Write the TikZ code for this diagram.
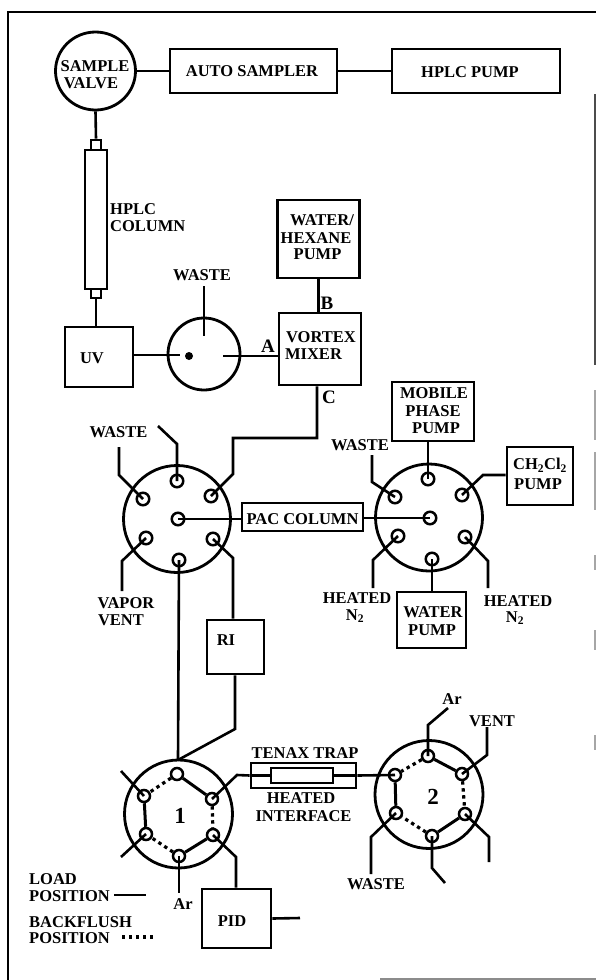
\documentclass[tikz,border=0pt]{standalone}
\usepackage{fontspec}
\usetikzlibrary{shapes.geometric}
\setmainfont{Liberation Serif}
\tikzset{
 x=1pt,y=-1pt,
 ln/.style={line width=2.6pt,line join=miter},
 thk/.style={line width=3pt},
 box/.style={line width=2.8pt},
 dot/.style={line width=3.2pt,dash pattern=on 3.4pt off 3.6pt},
 lab/.style={font=\bfseries\fontsize{16.5}{17}\selectfont,inner sep=0pt,anchor=center},
 labl/.style={lab,anchor=west},
 big/.style={font=\bfseries\fontsize{19}{19}\selectfont,inner sep=0pt},
 num/.style={font=\bfseries\fontsize{23}{23}\selectfont,inner sep=0pt},
 port/.style={circle,draw,line width=2.5pt,minimum size=12.5pt,inner sep=0pt},
 sport/.style={port,minimum size=12pt}
}
\begin{document}
\begin{tikzpicture}
\useasboundingbox (0,0) rectangle (596,980);
\fill[white] (0,0) rectangle (596,980);
% frame
\draw[line width=2.4pt] (596,12) -- (8,12) -- (8,980);
\draw[line width=1.4pt,black!45] (380,979) -- (596,979);
\draw[line width=1.5pt,black!70] (595,94) -- (595,365);
\draw[line width=1.5pt,black!35] (595,390) -- (595,440);
\draw[line width=1.5pt,black!35] (595,452) -- (595,510);
\draw[line width=1.5pt,black!35] (595,555) -- (595,570);
\draw[line width=1.5pt,black!35] (595,630) -- (595,650);
\draw[line width=1.5pt,black!35] (595,735) -- (595,750);
% top row
\node[draw,ellipse,box,minimum width=80pt,minimum height=78pt,inner sep=0pt] (sv) at (95.5,71) {};
\node[lab] at (95,66) {SAMPLE};
\node[lab] at (91,83) {VALVE};
\node[draw,rectangle,box,minimum width=167pt,minimum height=44pt] (as) at (253.5,71) {};
\node[lab] at (252,71) {AUTO SAMPLER};
\node[draw,rectangle,box,minimum width=168pt,minimum height=44pt] (hp) at (476,71) {};
\node[lab] at (470,72) {HPLC PUMP};
\draw[ln] (sv) -- (as);
\draw[ln] (as) -- (hp);
% hplc column
\node[draw,box,minimum width=22pt,minimum height=139pt] (col) at (96,219.5) {};
\node[draw,box,minimum width=10pt,minimum height=10pt] (fa) at (96,145) {};
\node[draw,box,minimum width=10pt,minimum height=9pt] (fb) at (96,293.5) {};
\node[labl] at (110,209) {HPLC};
\node[labl] at (110,226) {COLUMN};
\node[draw,box,minimum width=68pt,minimum height=60pt] (uv) at (99,357) {};
\node[lab] at (92,358) {UV};
\draw[ln] (sv.south) -- (fa.north);
\draw[ln] (fb.south) -- (uv.north -| fb.south);
% waste selector
\node[draw,circle,box,minimum size=72pt,inner sep=0pt] (wv) at (204,354) {};
\coordinate (wvs) at (204,336);
\coordinate (wvt) at (204,286);
\coordinate (wvl) at (180,355);
\coordinate (wvr) at (223,356);
\fill (189,356) circle (4);
\node[lab] at (202,275) {WASTE};
\draw[ln] (wvt) -- (wvs);
\draw[ln] (uv.east |- wvl) -- (wvl);
% vortex and water/hexane
\node[draw,box,minimum width=82pt,minimum height=72pt] (vm) at (320,349) {};
\node[lab] at (321,337) {VORTEX};
\node[lab] at (313.5,354) {MIXER};
\node[draw,box,minimum width=82pt,minimum height=78pt] (wh) at (318.5,239) {};
\node[lab] at (322,220) {WATER/};
\node[lab] at (316,238) {HEXANE};
\node[lab] at (317.5,254) {PUMP};
\node[big] at (268,346) {A};
\node[big] at (327,303) {B};
\node[big] at (329,397) {C};
\draw[ln] (wh.south) -- (vm.north -| wh.south);
\draw[ln] (wvr) -- (vm.west |- wvr);
% left 6-port valve
\node[draw,circle,box,minimum size=107pt,inner sep=0pt] (a) at (177,519) {};
\node[port] (at) at (177,481) {};
\node[port] (aur) at (211,496) {};
\node[port] (ac) at (178,519) {};
\node[port] (aul) at (143,499) {};
\node[port] (all) at (146,538) {};
\node[port] (alr) at (213,539) {};
\node[port] (ab) at (179,560) {};
\coordinate (p1) at (158,426);
\coordinate (p2) at (119,447);
\coordinate (p3) at (122,591);
\draw[ln] (vm.south -| 317,0) -- (317,438) -- (233,438) -- (233,474) -- (aur.center);
\draw[ln] (aul.center) -- (119,475) -- (p2);
\draw[ln] (at.center) -- (177,444) -- (p1);
\draw[ln] (all.center) -- (122,561) -- (p3);
\node[lab] at (118.5,432) {WASTE};
\node[lab] at (126,603) {VAPOR};
\node[lab] at (121,620) {VENT};
% PAC column
\node[draw,box,fill=white,minimum width=121pt,minimum height=28pt] (pac) at (302.5,517) {};
\node[lab] at (302.5,519) {PAC COLUMN};
\draw[ln] (ac.center) -- (pac.west |- ac.center);
% RI
\node[draw,box,minimum width=57pt,minimum height=54pt] (ri) at (235.5,647) {};
\node[lab] at (226,640) {RI};
\draw[ln] (alr.center) -- (233,558) -- (ri.north -| 233,0);
% right 6-port valve
\node[draw,circle,box,minimum size=107pt,inner sep=0pt] (b) at (429,517.5) {};
\node[port] (bt) at (428,479) {};
\node[port] (bur) at (462,495) {};
\node[port] (bc) at (430,518) {};
\node[port] (bul) at (395,497) {};
\node[port] (bll) at (398,536) {};
\node[port] (blr) at (465,537) {};
\node[port] (bb) at (432,559) {};
\draw[ln] (pac.east |- bc.center) -- (bc.center);
\node[draw,box,minimum width=82pt,minimum height=59pt] (mp) at (433,411.5) {};
\node[lab] at (434,393) {MOBILE};
\node[lab] at (433,411) {PHASE};
\node[lab] at (436,428) {PUMP};
\draw[ln] (mp.south -| bt.center) -- (bt.center);
\node[draw,box,minimum width=66pt,minimum height=58pt] (ch) at (540,476) {};
\node[lab] at (540,465) {CH$_{\mathbf 2}$Cl$_{\mathbf 2}$};
\node[lab] at (538,484) {PUMP};
\draw[ln] (bur.center) -- (483,475) -- (ch.west |- 483,475);
\draw[ln] (bul.center) -- (372,482) -- (372,455);
\draw[ln] (bll.center) -- (373,560) -- (373,588);
\draw[ln] (blr.center) -- (488,561) -- (488,588);
\node[lab] at (360,445) {WASTE};
\node[lab] at (357,598) {HEATED};
\node[lab] at (355,616) {N$_{\mathbf 2}$};
\node[lab] at (518,601) {HEATED};
\node[lab] at (515,618) {N$_{\mathbf 2}$};
\node[draw,box,minimum width=69pt,minimum height=56pt] (wp) at (431.5,620) {};
\node[lab] at (433,612) {WATER};
\node[lab] at (432,630) {PUMP};
\draw[ln] (bb.center) -- (wp.north -| bb.center);
% valve 1
\node[draw,circle,box,minimum size=108pt,inner sep=0pt] (c) at (178.5,814) {};
\node[sport] (ct) at (177,774) {};
\node[sport] (cur) at (212,799) {};
\node[sport] (clr) at (213,835) {};
\node[sport] (cb) at (179,856) {};
\node[sport] (cll) at (146,834) {};
\node[sport] (cul) at (144,796) {};
\draw[thk] (ct) -- (cur);
\draw[thk] (clr) -- (cb);
\draw[thk] (cll) -- (cul);
\draw[dot] (ct) -- (cul);
\draw[dot] (cur) -- (clr);
\draw[dot] (cb) -- (cll);
\node[num] at (180,816) {1};
\draw[ln] (ab.center) -- (178,760);
\draw[ln] (ri.south -| 235,0) -- (235,729) -- (178,760);
\draw[ln] (cul.center) -- (121,771);
\draw[ln] (cll.center) -- (121,857);
% trap
\node[draw,box,minimum width=105pt,minimum height=25pt] (to) at (303.5,775.5) {};
\node[draw,box,minimum width=62pt,minimum height=15pt] (ti) at (302,775.5) {};
\node[lab] at (305,753) {TENAX TRAP};
\node[lab] at (301,798) {HEATED};
\node[lab] at (303.5,816) {INTERFACE};
\draw[ln] (cur.center) -- (237,775) -- (to.west);
\draw[ln] (to.west) -- (ti.west);
% PID
\node[draw,box,minimum width=69pt,minimum height=59pt] (pid) at (236.5,918.5) {};
\node[lab] at (232,921) {PID};
\coordinate (pidout) at (300,918);
\draw[ln] (clr.center) -- (236,857) -- (pid.north -| 236,0);
\draw[ln] (pid.east) -- (pidout);
\coordinate (arc) at (179,893);
\draw[ln] (cb.center) -- (arc);
\node[lab] at (183,904) {Ar};
% legend
\node[labl] at (29,879) {LOAD};
\node[labl] at (29,896) {POSITION};
\node[labl] at (29,922) {BACKFLUSH};
\node[labl] at (29,938) {POSITION};
\coordinate (l1) at (114,895);
\coordinate (l2) at (146,895);
\coordinate (d1) at (122,937);
\coordinate (d2) at (154,937);
\draw[ln] (l1) -- (l2);
\draw[dot] (d1) -- (d2);
% valve 2
\node[draw,circle,box,minimum size=108pt,inner sep=0pt] (d) at (429,794.5) {};
\node[sport] (dt) at (428,756) {};
\node[sport] (dur) at (462,774) {};
\node[sport] (dlr) at (465,814) {};
\node[sport] (db) at (432,836) {};
\node[sport] (dll) at (396,813) {};
\node[sport] (dul) at (395,775) {};
\draw[thk] (dt) -- (dur);
\draw[thk] (dlr) -- (db);
\draw[thk] (dll) -- (dul);
\draw[dot] (dt) -- (dul);
\draw[dot] (dur) -- (dlr);
\draw[dot] (db) -- (dll);
\node[num] at (433,797) {2};
\draw[ln] (ti.east) -- (to.east);
\draw[ln] (to.east) -- (dul.center);
\draw[ln] (dt.center) -- (428,725) -- (448,708);
\draw[ln] (dur.center) -- (487,755) -- (487,727);
\draw[ln] (dll.center) -- (371,837) -- (371,874);
\draw[ln] (dlr.center) -- (489,837) -- (489,862);
\draw[ln] (db.center) -- (432,868) -- (445,883);
\node[lab] at (452,699) {Ar};
\node[lab] at (492,721) {VENT};
\node[lab] at (376,884) {WASTE};
\end{tikzpicture}
\end{document}
